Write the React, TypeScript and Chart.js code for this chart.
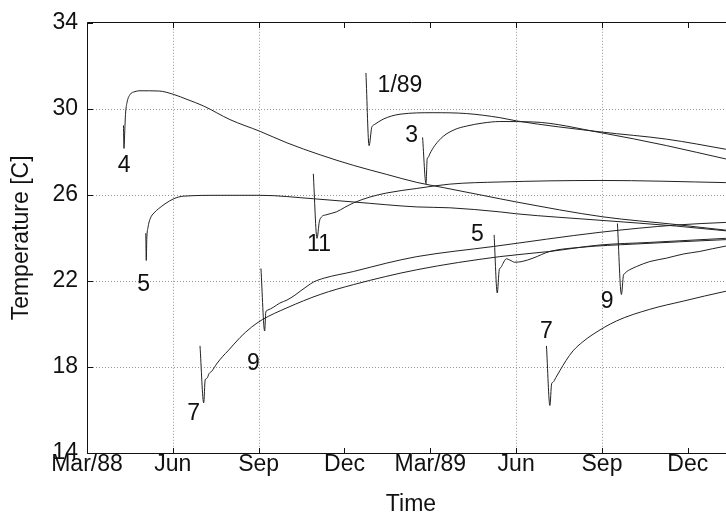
import React, { useEffect, useRef } from "react";
import { Chart, registerables } from "chart.js";

Chart.register(...registerables);

// x values are months counted from 1 March 1988; y values are temperatures in °C.
const monthTicks = [0, 3, 6, 9, 12, 15, 18, 21];
const monthTickLabels = ["Mar/88", "Jun", "Sep", "Dec", "Mar/89", "Jun", "Sep", "Dec"];
const gridMonths = [3, 6, 15, 18];
const tempTicks = [14, 18, 22, 26, 30, 34];

const apr88: [number, number][] = [
  [1.275, 29.23], [1.293, 28.16], [1.321, 28.99], [1.345, 29.73], [1.398, 30.29], [1.502, 30.66],
  [1.677, 30.8], [1.852, 30.84], [2.505, 30.83], [3.029, 30.67], [3.494, 30.44], [4.078, 30.13],
  [4.997, 29.5], [6.055, 28.95], [6.988, 28.42], [8.152, 27.86], [9.319, 27.37], [10.48, 26.95],
  [11.53, 26.58], [12.45, 26.34], [14.43, 25.82], [15.01, 25.67], [18.03, 24.98], [20.6, 24.62],
  [22.33, 24.36], [22.65, 24.32],
];
const may88: [number, number][] = [
  [2.055, 24.22], [2.072, 22.95], [2.089, 23.92], [2.131, 24.47], [2.212, 24.9], [2.341, 25.16],
  [2.505, 25.36], [2.725, 25.58], [3.029, 25.82], [3.379, 25.94], [4.647, 25.98], [6.045, 25.98],
  [7.921, 25.82], [9.319, 25.67], [11.53, 25.44], [12.68, 25.4], [14.43, 25.21], [15.01, 25.12],
  [17.93, 24.82], [20.6, 24.55], [22.33, 24.33], [22.65, 24.3],
];
const jul88: [number, number][] = [
  [3.95, 18.98], [4.08, 16.33], [4.13, 17.4], [4.19, 17.47], [4.27, 17.7], [4.36, 17.8],
  [4.53, 18.14], [4.75, 18.5], [4.93, 18.75], [5.35, 19.37], [5.75, 19.85], [6.13, 20.2],
  [6.99, 20.75], [8.15, 21.37], [9.32, 21.83], [11.53, 22.52], [14.43, 23.13], [16.18, 23.37],
  [17.93, 23.67], [19.67, 23.79], [22.33, 23.98], [22.65, 24.0],
];
const sep88: [number, number][] = [
  [6.08, 22.58], [6.21, 19.67], [6.25, 20.55], [6.31, 20.64], [6.52, 20.78], [6.74, 20.97],
  [6.99, 21.11], [7.27, 21.34], [7.45, 21.52], [7.69, 21.75], [7.92, 21.95], [8.29, 22.13],
  [9.32, 22.44], [10.48, 22.83], [11.53, 23.13], [14.2, 23.6], [17.93, 24.26], [20.6, 24.6],
  [22.33, 24.72], [22.65, 24.74],
];
const nov88: [number, number][] = [
  [7.91, 26.98], [8.04, 23.98], [8.12, 24.75], [8.2, 24.98], [8.35, 25.07], [8.72, 25.21],
  [9.01, 25.42], [9.32, 25.63], [9.89, 25.9], [10.48, 26.09], [11.53, 26.3], [12.68, 26.5],
  [14.43, 26.6], [17.93, 26.67], [22.33, 26.57], [22.65, 26.56],
];
const jan89: [number, number][] = [
  [9.75, 31.67], [9.86, 28.29], [9.95, 29.13], [9.99, 29.22], [10.06, 29.28], [10.35, 29.52],
  [10.94, 29.75], [12.1, 29.82], [13.27, 29.78], [14.43, 29.59], [15.01, 29.44], [17.93, 28.93],
  [20.26, 28.59], [22.33, 28.12], [22.65, 28.04],
];
const mar89: [number, number][] = [
  [11.73, 28.67], [11.85, 26.52], [11.89, 27.67], [11.93, 27.75], [11.98, 27.9], [12.16, 28.3],
  [12.45, 28.72], [12.86, 29.04], [13.27, 29.2], [13.84, 29.34], [14.43, 29.41], [15.6, 29.39],
  [17.93, 28.9], [20.26, 28.29], [22.33, 27.67], [22.65, 27.58],
];
const may89: [number, number][] = [
  [14.23, 24.14], [14.34, 21.44], [14.41, 22.52], [14.47, 22.63], [14.54, 22.81], [14.66, 23.03],
  [14.78, 22.97], [14.95, 22.87], [15.2, 22.9], [15.59, 23.06], [16.18, 23.37], [17.33, 23.57],
  [19.08, 23.71], [22.33, 23.92], [22.65, 23.94],
];
const jul89: [number, number][] = [
  [16.06, 18.98], [16.18, 16.21], [16.24, 17.22], [16.29, 17.29], [16.39, 17.51], [16.53, 17.83],
  [16.74, 18.29], [16.99, 18.75], [17.33, 19.17], [17.69, 19.52], [18.51, 20.14], [19.67, 20.68],
  [20.84, 21.06], [22.33, 21.52], [22.65, 21.6],
];
const sep89: [number, number][] = [
  [18.54, 24.67], [18.68, 21.37], [18.75, 22.26], [18.8, 22.35], [18.87, 22.44], [18.97, 22.52],
  [19.21, 22.67], [19.67, 22.9], [20.26, 23.06], [20.84, 23.25], [21.42, 23.37], [22.33, 23.62],
  [22.65, 23.66],
];

const runs = [apr88, may88, jul88, sep88, nov88, jan89, mar89, may89, jul89, sep89];

// Start-month tags written beside each run, with their anchor positions.
const startLabels = ["4", "5", "7", "9", "11", "1/89", "3", "5", "7", "9"];
const labelMonths = [1.3, 1.98, 3.73, 5.82, 8.11, 10.94, 11.35, 13.65, 16.06, 18.18];
const labelTemps = [27.37, 21.83, 15.83, 18.14, 23.67, 31.06, 28.75, 24.14, 19.63, 21.03];

const FONT_FAMILY = '"Liberation Sans", Arial, Helvetica, sans-serif';
const FONT_SIZE = 23;
const INK = "#111111";

const framePlugin = {
  id: "matlabFrame",
  beforeDatasetsDraw(chart: any) {
    const { ctx, chartArea: a, scales } = chart;
    const x = scales.x;
    const y = scales.y;
    ctx.save();
    ctx.strokeStyle = "#969696";
    ctx.lineWidth = 1;
    ctx.setLineDash([1, 2]);
    ctx.beginPath();
    for (const m of gridMonths) {
      const px = Math.round(x.getPixelForValue(m)) + 0.5;
      ctx.moveTo(px, a.top);
      ctx.lineTo(px, a.bottom);
    }
    for (const t of tempTicks) {
      if (t === tempTicks[0] || t === tempTicks[tempTicks.length - 1]) continue;
      const py = Math.round(y.getPixelForValue(t)) + 0.5;
      ctx.moveTo(a.left, py);
      ctx.lineTo(a.right, py);
    }
    ctx.stroke();
    ctx.restore();
  },
  afterDatasetsDraw(chart: any) {
    const { ctx, chartArea: a, scales } = chart;
    const x = scales.x;
    const y = scales.y;
    const left = Math.round(a.left) + 0.5;
    const top = Math.round(a.top) - 0.5;
    const bottom = Math.round(a.bottom) + 0.5;
    const right = Math.round(a.right) + 0.5;
    const tick = 5.5;

    ctx.save();
    ctx.setLineDash([]);
    ctx.strokeStyle = INK;
    ctx.lineWidth = 1;
    ctx.beginPath();
    // axis box
    ctx.moveTo(left, top);
    ctx.lineTo(right, top);
    ctx.lineTo(right, bottom);
    ctx.lineTo(left, bottom);
    ctx.closePath();
    // inward tick marks
    for (const m of monthTicks) {
      const px = Math.round(x.getPixelForValue(m)) + 0.5;
      ctx.moveTo(px, bottom);
      ctx.lineTo(px, bottom - tick);
      ctx.moveTo(px, top);
      ctx.lineTo(px, top + tick);
    }
    for (const t of tempTicks) {
      const py = Math.round(y.getPixelForValue(t)) + 0.5;
      ctx.moveTo(left, py);
      ctx.lineTo(left + tick, py);
    }
    ctx.stroke();

    // start-month tags
    ctx.fillStyle = INK;
    ctx.font = `${FONT_SIZE}px ${FONT_FAMILY}`;
    ctx.textAlign = "center";
    ctx.textBaseline = "middle";
    startLabels.forEach((txt, i) => {
      ctx.fillText(txt, x.getPixelForValue(labelMonths[i]), y.getPixelForValue(labelTemps[i]));
    });
    ctx.restore();
  },
};

export default function App() {
  const canvasRef = useRef<HTMLCanvasElement | null>(null);

  useEffect(() => {
    const canvas = canvasRef.current;
    if (!canvas) return;
    const font = { family: FONT_FAMILY, size: FONT_SIZE };

    const chart = new Chart(canvas, {
      type: "line",
      data: {
        datasets: runs.map((run) => ({
          data: run.map(([m, t]) => ({ x: m, y: t })),
          borderColor: "#222222",
          borderWidth: 1,
          pointRadius: 0,
          cubicInterpolationMode: "monotone",
          fill: false,
        })),
      },
      options: {
        animation: false,
        responsive: false,
        devicePixelRatio: 1,
        events: [],
        layout: { padding: { top: 20, right: 25, left: 0, bottom: 0 } },
        plugins: {
          legend: { display: false },
          tooltip: { enabled: false },
        },
        scales: {
          x: {
            type: "linear",
            min: 0,
            max: 22.65,
            afterBuildTicks: (s: any) => {
              s.ticks = monthTicks.map((v) => ({ value: v }));
            },
            afterFit: (s: any) => {
              s.height = 69;
            },
            grid: { display: false, drawTicks: false },
            border: { display: false },
            ticks: {
              autoSkip: false,
              maxRotation: 0,
              minRotation: 0,
              padding: 0,
              color: INK,
              font: { ...font, lineHeight: 1 },
              callback: (_v: any, i: number) => monthTickLabels[i] ?? "",
            },
            title: {
              display: true,
              text: "Time",
              color: INK,
              font,
              padding: { top: 4, bottom: 3.5 },
            },
          },
          y: {
            type: "linear",
            min: 14,
            max: 34,
            afterBuildTicks: (s: any) => {
              s.ticks = tempTicks.map((v) => ({ value: v }));
            },
            afterFit: (s: any) => {
              s.width = 87;
            },
            grid: { display: false, drawTicks: false },
            border: { display: false },
            ticks: {
              padding: 9,
              color: INK,
              font,
              callback: (v: any) => String(v),
            },
            title: {
              display: true,
              text: "Temperature [C]",
              color: INK,
              font,
              padding: { top: 8, bottom: 4 },
            },
          },
        },
      },
      plugins: [framePlugin],
    } as any);

    return () => chart.destroy();
  }, []);

  return (
    <div
      style={{
        position: "fixed",
        left: 0,
        top: 0,
        width: 726,
        height: 522,
        overflow: "hidden",
        background: "#ffffff",
      }}
    >
      <canvas ref={canvasRef} width={760} height={522} style={{ display: "block" }} />
    </div>
  );
}
